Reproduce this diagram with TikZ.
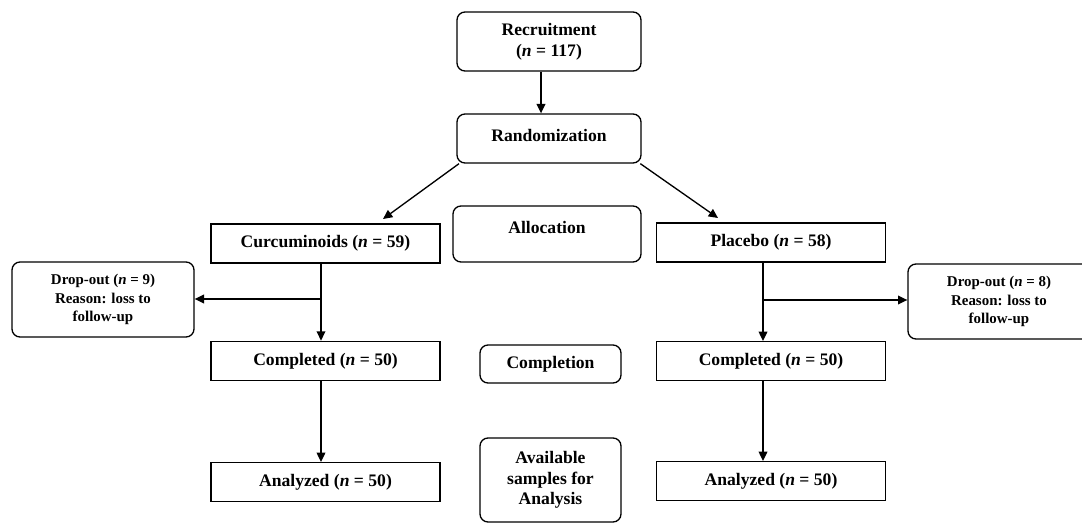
\documentclass[tikz,border=0pt]{standalone}
\usepackage{fontspec}
\setmainfont{Liberation Serif}
\usetikzlibrary{arrows.meta,positioning}

\newcommand{\mainfnt}{\bfseries\fontsize{13.2}{15.5}\selectfont}
\newcommand{\dropfnt}{\bfseries\fontsize{11.2}{14}\selectfont}

\tikzset{
  box/.style={draw, line width=1pt, font=\mainfnt, align=center, inner sep=2pt},
  rectbox/.style={box, minimum width=171.75pt, minimum height=29.25pt},
  roundbox/.style={box, rounded corners=6pt},
  dropbox/.style={roundbox, font=\dropfnt, minimum width=136.5pt, minimum height=56.25pt},
  toplabel/.style={label={[font=\mainfnt, anchor=base, yshift=-21pt]north:#1}}
}

\begin{document}
\begin{tikzpicture}[x=0.75pt,y=-0.75pt,node distance=90pt,on grid,
    >={Triangle[length=7pt,width=6.5pt]}, line width=1pt]
  \useasboundingbox (0,0) rectangle (1082,524);
  \clip (0,0) rectangle (1082,524);

  % middle column
  \node[roundbox, minimum width=138pt, minimum height=44.25pt] (recruit) at (549,41.5)
       {Recruitment\\(\textit{n} = 117)};
  \node[roundbox, minimum width=138pt, minimum height=36.75pt, toplabel=Randomization]
       (random) at (549,138.5) {};
  \node[roundbox, minimum width=141pt, minimum height=42pt, toplabel=Allocation]
       (alloc) at (547,234) {};
  \node[roundbox, minimum width=105.75pt, minimum height=28.5pt] (complet) at (550.5,364)
       {Completion};
  \node[roundbox, minimum width=105.75pt, minimum height=63pt] (avail) at (550.5,480)
       {Available\\samples for\\Analysis};

  % curcuminoids arm
  \node[rectbox] (curc) at (325.5,243.5) {Curcuminoids (\textit{n} = 59)};
  \node[rectbox] (compl_c) [below=88pt of curc] {Completed (\textit{n} = 50)};
  \node[rectbox] (anal_c) [below=91pt of compl_c] {Analyzed (\textit{n} = 50)};
  \node[dropbox] (drop_c) at (103,299.5) {Drop-out (\textit{n} = 9)\\Reason: loss to\\follow-up};

  % placebo arm
  \node[rectbox] (plac) at (771,242.5) {Placebo (\textit{n} = 58)};
  \node[rectbox] (compl_p) [below=89pt of plac] {Completed (\textit{n} = 50)};
  \node[rectbox] (anal_p) [below=90pt of compl_p] {Analyzed (\textit{n} = 50)};
  \node[dropbox] (drop_p) at (999,301.5) {Drop-out (\textit{n} = 8)\\Reason: loss to\\follow-up};

  \coordinate (j_c) at (321,299);
  \coordinate (j_p) at (763,300);
  \coordinate (tip_c) at (383,219);
  \coordinate (tip_p) at (718,218);

  \draw[->] ([xshift=-6pt]recruit.south) -- ([xshift=-6pt]random.north);
  \draw[->] ([xshift=2pt]random.south west) -- (tip_c);
  \draw[->] ([xshift=-1pt]random.south east) -- (tip_p);

  \draw[->] (curc.south -| j_c) -- (compl_c.north -| j_c);
  \draw[->] (j_c) -- (j_c -| drop_c.east);
  \draw[->] (compl_c.south -| j_c) -- (anal_c.north -| j_c);

  \draw[->] (plac.south -| j_p) -- (compl_p.north -| j_p);
  \draw[->] (j_p) -- (j_p -| drop_p.west);
  \draw[->] (compl_p.south -| j_p) -- (anal_p.north -| j_p);
\end{tikzpicture}
\end{document}
